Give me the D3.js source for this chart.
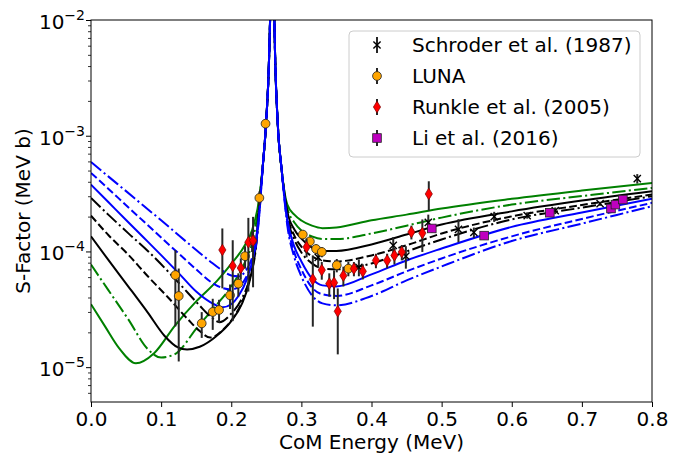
<!DOCTYPE html>
<html lang="en">
<head>
<meta charset="utf-8">
<script src="https://d3js.org/d3.v7.min.js"></script>
<style>
  body { margin: 0; background: #fff; }
  svg { display: block; font-family: "DejaVu Sans", sans-serif; }
</style>
</head>
<body>
<svg id="chart"></svg>
<script>
// ---- model curves (E in MeV, S in MeV b) ----
// low-energy side, one list of [E, S] per curve
var greenSolidL = [[0,3.5e-5],[0.02,2.25e-5],[0.04,1.46e-5],[0.064,1.08e-5],[0.09,1.32e-5],[0.12,2.3e-5],[0.15,3.7e-5],[0.18,5.6e-5],[0.2,7.8e-5],[0.22,1.15e-4],[0.23,1.55e-4],[0.24,2.9e-4]];
var greenDashDotL = [[0,7.7e-5],[0.024,4.7e-5],[0.053,2.6e-5],[0.081,1.43e-5],[0.1,1.21e-5],[0.119,1.29e-5],[0.153,2.27e-5],[0.18,3.5e-5],[0.2,5.0e-5],[0.22,8.2e-5],[0.23,1.2e-4],[0.24,2.8e-4]];
var blackSolidL = [[0,1.35e-4],[0.025,8.4e-5],[0.053,5.0e-5],[0.081,2.96e-5],[0.105,1.86e-5],[0.124,1.48e-5],[0.137,1.42e-5],[0.155,1.5e-5],[0.179,1.86e-5],[0.2,2.5e-5],[0.215,3.5e-5],[0.226,5.5e-5],[0.234,1.0e-4],[0.24,2.5e-4]];
var blackDashL = [[0,2.04e-4],[0.025,1.38e-4],[0.053,9.4e-5],[0.081,6.1e-5],[0.11,4.0e-5],[0.138,2.6e-5],[0.155,2.05e-5],[0.17,1.8e-5],[0.188,2.1e-5],[0.205,2.8e-5],[0.218,4.0e-5],[0.228,6.5e-5],[0.235,1.1e-4],[0.24,2.4e-4]];
var blackDashDotL = [[0,2.9e-4],[0.025,2.07e-4],[0.053,1.44e-4],[0.081,1.01e-4],[0.11,6.7e-5],[0.138,4.4e-5],[0.155,3.4e-5],[0.17,2.75e-5],[0.183,2.45e-5],[0.2,2.9e-5],[0.215,3.9e-5],[0.227,6.0e-5],[0.235,1.05e-4],[0.24,2.3e-4]];
var blueSolidL = [[0,3.78e-4],[0.025,2.66e-4],[0.05,1.87e-4],[0.075,1.32e-4],[0.1,9.3e-5],[0.125,6.5e-5],[0.15,4.5e-5],[0.17,3.65e-5],[0.188,3.3e-5],[0.2,3.5e-5],[0.21,4.1e-5],[0.222,5.7e-5],[0.234,1.1e-4],[0.24,2.2e-4]];
var blueDashL = [[0,4.77e-4],[0.025,3.47e-4],[0.05,2.51e-4],[0.075,1.82e-4],[0.1,1.32e-4],[0.125,9.6e-5],[0.15,7.0e-5],[0.17,5.5e-5],[0.185,4.9e-5],[0.2,4.7e-5],[0.21,4.9e-5],[0.22,5.8e-5],[0.23,8.3e-5],[0.235,1.15e-4],[0.24,2.1e-4]];
var blueDashDotL = [[0,5.93e-4],[0.025,4.43e-4],[0.05,3.32e-4],[0.075,2.48e-4],[0.1,1.86e-4],[0.125,1.38e-4],[0.15,1.03e-4],[0.17,8.2e-5],[0.185,7.0e-5],[0.2,6.2e-5],[0.21,6.1e-5],[0.22,6.7e-5],[0.23,8.9e-5],[0.236,1.2e-4],[0.24,2.1e-4]];

// resonance, shared by all curves
var peakL = [[0.245,5.5e-4],[0.2496,1.27e-3],[0.254,4.8e-3],[0.2575,5e-2],[0.2585,1.5e-1]];
var peakR = [[0.2595,5e-2],[0.2625,5e-3],[0.2663,1.27e-3],[0.272,5e-4]];

// high-energy side, common energies
var rightE = [0.28,0.29,0.30,0.315,0.33,0.35,0.4,0.45,0.5,0.6,0.7,0.8];
var greenSolidR = [2.54e-4,2.08e-4,1.85e-4,1.67e-4,1.59e-4,1.61e-4,1.86e-4,2.08e-4,2.35e-4,2.85e-4,3.36e-4,3.91e-4];
var greenDashDotR = [2.35e-4,1.78e-4,1.52e-4,1.35e-4,1.28e-4,1.28e-4,1.43e-4,1.67e-4,1.96e-4,2.54e-4,3.01e-4,3.54e-4];
var blackSolidR = [2.21e-4,1.55e-4,1.29e-4,1.08e-4,1.01e-4,1.01e-4,1.15e-4,1.40e-4,1.71e-4,2.22e-4,2.75e-4,3.31e-4];
var blackDashR = [2.08e-4,1.37e-4,1.10e-4,9.06e-5,8.36e-5,8.20e-5,9.24e-5,1.13e-4,1.43e-4,2.01e-4,2.52e-4,3.10e-4];
var blackDashDotR = [2.00e-4,1.27e-4,9.80e-5,7.88e-5,7.14e-5,7.00e-5,7.88e-5,1.0e-4,1.27e-4,1.89e-4,2.39e-4,3.00e-4];
var blueSolidR = [1.89e-4,1.10e-4,8.20e-5,5.85e-5,5.09e-5,4.99e-5,6.33e-5,8.36e-5,1.06e-4,1.63e-4,2.17e-4,2.85e-4];
var blueDashR = [1.78e-4,9.80e-5,7.00e-5,4.89e-5,4.26e-5,4.13e-5,5.09e-5,6.73e-5,8.70e-5,1.35e-4,1.91e-4,2.63e-4];
var blueDashDotR = [1.67e-4,8.88e-5,6.09e-5,4.18e-5,3.56e-5,3.42e-5,4.12e-5,5.62e-5,7.42e-5,1.23e-4,1.74e-4,2.46e-4];

// ---- measurements ----
var schroderE = [0.324,0.382,0.431,0.449,0.481,0.524,0.546,0.575,0.622,0.662,0.726,0.779];
var schroderS = [8.9e-5,7.3e-5,1.13e-4,9.1e-5,1.78e-4,1.55e-4,1.46e-4,2.0e-4,2.04e-4,2.25e-4,2.59e-4,4.26e-4];
var schroderErr = [1.5e-5,1.2e-5,2e-5,2e-5,3e-5,3.5e-5,1.5e-5,2e-5,1.2e-5,1.5e-5,1e-5,4e-5];

var lunaE = [0.1203,0.1251,0.1579,0.1736,0.1826,0.1983,0.2101,0.2197,0.2297,0.2401,0.2489,0.302,0.3121,0.321,0.3291,0.3505,0.367];
var lunaS = [6.25e-5,4.12e-5,2.39e-5,3.0e-5,3.12e-5,4.18e-5,5.27e-5,9.1e-5,1.24e-4,2.9e-4,1.27e-3,1.4e-4,1.22e-4,1.05e-4,9.9e-5,7.6e-5,7.1e-5];
var lunaErr = [4e-5,3e-5,6e-6,9e-6,7e-6,1e-5,1.2e-5,2e-5,2.5e-5,4e-5,1e-4,1.2e-5,1.2e-5,1e-5,1e-5,1e-5,1e-5];

var runkleE = [0.1873,0.2021,0.2136,0.2244,0.2311,0.3074,0.3163,0.3291,0.3398,0.3466,0.3519,0.3599,0.3749,0.3876,0.4063,0.4223,0.4327,0.4432,0.4569,0.4725,0.4817];
var runkleS = [1.03e-4,7.5e-5,7.2e-5,1.2e-4,1.24e-4,1.09e-4,5.74e-5,6.9e-5,5.27e-5,5.37e-5,3.04e-5,6.18e-5,7.1e-5,6.73e-5,8.36e-5,8.36e-5,9.24e-5,9.87e-5,1.47e-4,1.44e-4,3.14e-4];
var runkleErr = [5.5e-5,5e-5,1.5e-5,7.5e-5,7.5e-5,2e-5,3.5e-5,1.2e-5,1.2e-5,1.5e-5,1.75e-5,1.2e-5,1e-5,1e-5,1.2e-5,1.2e-5,1.5e-5,1.5e-5,2e-5,4.5e-5,9e-5];

var liE = [0.486,0.5606,0.6543,0.7415,0.7478,0.7585];
var liS = [1.58e-4,1.37e-4,2.16e-4,2.35e-4,2.54e-4,2.81e-4];
var liErr = [1.2e-5,1e-5,1.2e-5,1.2e-5,1.2e-5,1.5e-5];

var xTicks = [0, 0.1, 0.2, 0.3, 0.4, 0.5, 0.6, 0.7, 0.8];
var yTicks = [1e-5, 1e-4, 1e-3, 1e-2];

// ---- setup ----
var width = 683, height = 453;
var plotL = 91, plotR = 652, plotT = 20, plotB = 402;
var fontSize = 20;

var svg = d3.select('#chart').attr('width', width).attr('height', height);

var x = d3.scaleLinear().domain([0, 0.8]).range([plotL, plotR]);
var y = d3.scaleLog().domain([5e-6, 1e-2]).range([plotB, plotT]);

svg.append('clipPath').attr('id', 'plotClip')
  .append('rect').attr('x', plotL).attr('y', plotT)
  .attr('width', plotR - plotL).attr('height', plotB - plotT);

var DASH = '7.7,3.3', DASHDOT = '13.3,3.3,2.1,3.3';

function zipR(vals) {
  return rightE.map(function (e, i) { return [e, vals[i]]; });
}

var curves = [
  { l: greenSolidL, r: greenSolidR, color: 'green', dash: null },
  { l: greenDashDotL, r: greenDashDotR, color: 'green', dash: DASHDOT },
  { l: blackSolidL, r: blackSolidR, color: 'black', dash: null },
  { l: blackDashL, r: blackDashR, color: 'black', dash: DASH },
  { l: blackDashDotL, r: blackDashDotR, color: 'black', dash: DASHDOT },
  { l: blueSolidL, r: blueSolidR, color: 'blue', dash: null },
  { l: blueDashL, r: blueDashR, color: 'blue', dash: DASH },
  { l: blueDashDotL, r: blueDashDotR, color: 'blue', dash: DASHDOT }
];

var line = d3.line()
  .x(function (d) { return x(d[0]); })
  .y(function (d) { return y(d[1]); })
  .curve(d3.curveMonotoneX);

var curveG = svg.append('g').attr('clip-path', 'url(#plotClip)');
curves.forEach(function (c) {
  var pts = c.l.concat(peakL, peakR, zipR(c.r));
  curveG.append('path')
    .attr('d', line(pts))
    .attr('fill', 'none')
    .attr('stroke', c.color)
    .attr('stroke-width', 2)
    .attr('stroke-dasharray', c.dash);
});

// ---- markers ----
var ERR_COLOR = '#262626';

function drawMarker(g, type, cx, cy) {
  if (type === 'x') {
    var h = 3.6;
    g.append('path')
      .attr('d', 'M' + (cx - h) + ',' + (cy - h) + 'L' + (cx + h) + ',' + (cy + h) +
                 'M' + (cx - h) + ',' + (cy + h) + 'L' + (cx + h) + ',' + (cy - h))
      .attr('stroke', 'black').attr('stroke-width', 1.4).attr('fill', 'none');
  } else if (type === 'o') {
    g.append('circle').attr('cx', cx).attr('cy', cy).attr('r', 4.4)
      .attr('fill', 'orange').attr('stroke', '#222').attr('stroke-width', 0.8);
  } else if (type === 'd') {
    g.append('path')
      .attr('d', 'M' + cx + ',' + (cy - 5.8) + 'L' + (cx + 3.6) + ',' + cy +
                 'L' + cx + ',' + (cy + 5.8) + 'L' + (cx - 3.6) + ',' + cy + 'Z')
      .attr('fill', 'red').attr('stroke', '#7a0000').attr('stroke-width', 0.7);
  } else if (type === 's') {
    g.append('rect').attr('x', cx - 4.3).attr('y', cy - 4.3).attr('width', 8.6).attr('height', 8.6)
      .attr('fill', '#bf00bf').attr('stroke', '#222').attr('stroke-width', 0.8);
  }
}

var sets = [
  { name: 'Schroder et al. (1987)', e: schroderE, s: schroderS, err: schroderErr, m: 'x' },
  { name: 'LUNA', e: lunaE, s: lunaS, err: lunaErr, m: 'o' },
  { name: 'Runkle et al. (2005)', e: runkleE, s: runkleS, err: runkleErr, m: 'd' },
  { name: 'Li et al. (2016)', e: liE, s: liS, err: liErr, m: 's' }
];

var dataG = svg.append('g');
sets.forEach(function (set) {
  var g = dataG.append('g');
  set.e.forEach(function (e, i) {
    var lo = Math.max(set.s[i] - set.err[i], 1e-7);
    g.append('line')
      .attr('x1', x(e)).attr('x2', x(e))
      .attr('y1', y(set.s[i] + set.err[i])).attr('y2', y(lo))
      .attr('stroke', ERR_COLOR).attr('stroke-width', 2);
  });
  set.e.forEach(function (e, i) {
    drawMarker(g, set.m, x(e), y(set.s[i]));
  });
});

// ---- axes ----
var axisG = svg.append('g').attr('font-size', fontSize).attr('fill', 'black');

svg.append('g')
  .attr('transform', 'translate(0,' + plotB + ')')
  .call(d3.axisBottom(x).tickValues(xTicks).tickSize(5).tickPadding(5).tickFormat(d3.format('.1f')))
  .call(function (g) {
    g.select('.domain').remove();
    g.selectAll('line').attr('stroke', 'black').attr('stroke-width', 1);
    g.selectAll('text').attr('font-size', fontSize).attr('font-family', 'DejaVu Sans').attr('fill', 'black');
  });

var minors = [];
[1e-6, 1e-5, 1e-4, 1e-3].forEach(function (d) {
  for (var k = 2; k <= 9; k++) {
    var v = d * k;
    if (v >= 5e-6 && v < 1e-2) minors.push(v);
  }
});

svg.append('g')
  .attr('transform', 'translate(' + plotL + ',0)')
  .call(d3.axisLeft(y).tickValues(minors).tickSize(3).tickFormat(''))
  .call(function (g) {
    g.select('.domain').remove();
    g.selectAll('line').attr('stroke', 'black').attr('stroke-width', 0.8);
  });

svg.append('g')
  .attr('transform', 'translate(' + plotL + ',0)')
  .call(d3.axisLeft(y).tickValues(yTicks).tickSize(5).tickFormat(''))
  .call(function (g) {
    g.select('.domain').remove();
    g.selectAll('line').attr('stroke', 'black').attr('stroke-width', 1);
  });

yTicks.forEach(function (v) {
  var t = axisG.append('text')
    .attr('x', plotL - 6).attr('y', y(v) + 9)
    .attr('text-anchor', 'end');
  t.append('tspan').text('10');
  t.append('tspan').attr('dy', -9).attr('font-size', 14)
    .text('\u2212' + Math.round(-Math.log10(v)));
});

// frame
svg.append('rect')
  .attr('x', plotL).attr('y', plotT)
  .attr('width', plotR - plotL).attr('height', plotB - plotT)
  .attr('fill', 'none').attr('stroke', 'black').attr('stroke-width', 1);

// axis labels
axisG.append('text')
  .attr('x', (plotL + plotR) / 2).attr('y', 449)
  .attr('text-anchor', 'middle')
  .text('CoM Energy (MeV)');

axisG.append('text')
  .attr('transform', 'translate(30,' + ((plotT + plotB) / 2) + ') rotate(-90)')
  .attr('text-anchor', 'middle')
  .text('S-Factor (MeV b)');

// ---- legend ----
var leg = svg.append('g');
leg.append('rect')
  .attr('x', 349).attr('y', 31).attr('width', 291).attr('height', 126)
  .attr('rx', 4).attr('fill', 'white').attr('fill-opacity', 0.8)
  .attr('stroke', '#cccccc').attr('stroke-width', 1);

sets.forEach(function (set, i) {
  var cy = 45 + i * 31;
  leg.append('line')
    .attr('x1', 377).attr('x2', 377).attr('y1', cy - 8).attr('y2', cy + 8)
    .attr('stroke', ERR_COLOR).attr('stroke-width', 2);
  drawMarker(leg, set.m, 377, cy);
  leg.append('text')
    .attr('x', 412).attr('y', cy + 7)
    .attr('font-size', fontSize)
    .text(set.name);
});
</script>
</body>
</html>
